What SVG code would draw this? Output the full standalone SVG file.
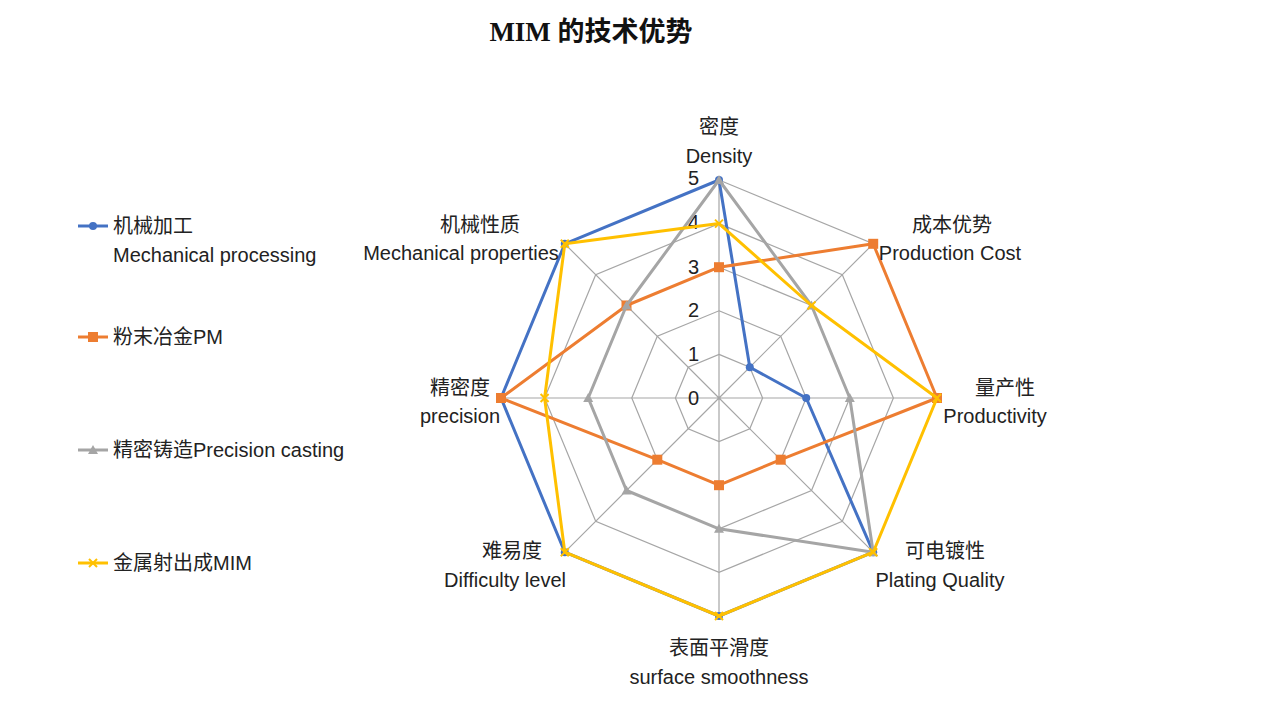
<svg xmlns="http://www.w3.org/2000/svg" width="1280" height="714" viewBox="0 0 1280 714">
<style>
.t{font-family:"Liberation Sans","Noto Sans CJK SC",sans-serif;font-size:20px;fill:#222}
.m{text-anchor:middle}
.g{fill:none;stroke:#a6a6a6;stroke-width:1.2}
.s{fill:none;stroke-width:3;stroke-linejoin:round}
</style>
<defs>
<marker id="mb" viewBox="-5 -5 10 10" markerWidth="10" markerHeight="10" refX="0" refY="0" markerUnits="userSpaceOnUse"><circle r="4" fill="#4472C4"/></marker>
<marker id="mo" viewBox="-6 -6 12 12" markerWidth="12" markerHeight="12" refX="0" refY="0" markerUnits="userSpaceOnUse"><rect x="-5" y="-5" width="10" height="10" fill="#ED7D31"/></marker>
<marker id="mg" viewBox="-6 -6 12 12" markerWidth="12" markerHeight="12" refX="0" refY="0" markerUnits="userSpaceOnUse"><polygon points="0,-5 5,4 -5,4" fill="#A5A5A5"/></marker>
<marker id="my" viewBox="-6 -6 12 12" markerWidth="12" markerHeight="12" refX="0" refY="0" markerUnits="userSpaceOnUse"><path d="M-4,-4L4,4M-4,4L4,-4" stroke="#FFC000" stroke-width="2"/></marker>
</defs>
<rect width="1280" height="714" fill="#fff"/>
<text x="591" y="41" text-anchor="middle" font-family="Liberation Serif,'Noto Sans CJK SC',serif" font-weight="bold" font-size="27" fill="#111">MIM 的技术优势</text>
<g id="grid">
<polygon class="g" points="719,354.4 749.8,367.2 762.6,398 749.8,428.8 719,441.6 688.2,428.8 675.4,398 688.2,367.2"/>
<polygon class="g" points="719,310.8 780.7,336.3 806.2,398 780.7,459.7 719,485.2 657.3,459.7 631.8,398 657.3,336.3"/>
<polygon class="g" points="719,267.2 811.5,305.5 849.8,398 811.5,490.5 719,528.8 626.5,490.5 588.2,398 626.5,305.5"/>
<polygon class="g" points="719,223.6 842.3,274.7 893.4,398 842.3,521.3 719,572.4 595.7,521.3 544.6,398 595.7,274.7"/>
<polygon class="g" points="719,180 873.2,243.8 937,398 873.2,552.2 719,616 564.8,552.2 501,398 564.8,243.8"/>
<path class="g" d="M719,398V180M719,398L873.2,243.8M719,398H937M719,398L873.2,552.2M719,398V616M719,398L564.8,552.2M719,398H501M719,398L564.8,243.8"/>
<g class="t" text-anchor="end">
<text x="699" y="185">5</text><text x="699" y="229">4</text><text x="699" y="274">3</text><text x="699" y="317">2</text><text x="699" y="361">1</text><text x="699" y="405">0</text>
</g>
</g>
<g id="connectors">
<polygon id="s-blue" class="s" stroke="#4472C4" marker-start="url(#mb)" marker-mid="url(#mb)" points="719,180 749.8,367.2 806.2,398 873.2,552.2 719,616 564.8,552.2 501,398 564.8,243.8"/>
<polygon id="s-orange" class="s" stroke="#ED7D31" marker-start="url(#mo)" marker-mid="url(#mo)" points="719,267.2 873.2,243.8 937,398 780.7,459.7 719,485.2 657.3,459.7 501,398 626.5,305.5"/>
<polygon id="s-gray" class="s" stroke="#A5A5A5" marker-start="url(#mg)" marker-mid="url(#mg)" points="719,180 811.5,305.5 849.8,398 873.2,552.2 719,528.8 626.5,490.5 588.2,398 626.5,305.5"/>
<polygon id="s-yellow" class="s" stroke="#FFC000" marker-start="url(#my)" marker-mid="url(#my)" points="719,223.6 811.5,305.5 937,398 873.2,552.2 719,616 564.8,552.2 544.6,398 564.8,243.8"/>
</g>
<g id="axis-labels" class="t">
<g id="n-density" class="m"><text x="719" y="134">密度</text><text x="719" y="163">Density</text></g>
<g id="n-cost" class="m"><text x="952" y="232">成本优势</text><text x="950" y="260">Production Cost</text></g>
<g id="n-prod" class="m"><text x="1005" y="395">量产性</text><text x="995" y="423">Productivity</text></g>
<g id="n-plating" class="m"><text x="945" y="558">可电镀性</text><text x="940" y="587">Plating Quality</text></g>
<g id="n-smooth" class="m"><text x="719" y="655">表面平滑度</text><text x="719" y="684">surface smoothness</text></g>
<g id="n-diff" class="m"><text x="512" y="558">难易度</text><text x="505" y="587">Difficulty level</text></g>
<g id="n-prec" class="m"><text x="460" y="395">精密度</text><text x="460" y="423">precision</text></g>
<g id="n-mech" class="m"><text x="480" y="232">机械性质</text><text x="461" y="260">Mechanical properties</text></g>
</g>
<g id="legend" class="t">
<g id="l-blue"><path d="M78,226H108" stroke="#4472C4" stroke-width="3"/><circle cx="93" cy="226" r="4" fill="#4472C4"/><text x="113" y="233">机械加工</text><text x="113" y="262">Mechanical processing</text></g>
<g id="l-orange"><path d="M78,337H108" stroke="#ED7D31" stroke-width="3"/><rect x="88" y="332" width="10" height="10" fill="#ED7D31"/><text x="113" y="344">粉末冶金PM</text></g>
<g id="l-gray"><path d="M78,450H108" stroke="#A5A5A5" stroke-width="3"/><polygon points="93,445 98,454 88,454" fill="#A5A5A5"/><text x="113" y="457">精密铸造Precision casting</text></g>
<g id="l-yellow"><path d="M78,563H108" stroke="#FFC000" stroke-width="3"/><path d="M89,559L97,567M89,567L97,559" stroke="#FFC000" stroke-width="2"/><text x="113" y="570">金属射出成MIM</text></g>
</g>
</svg>
